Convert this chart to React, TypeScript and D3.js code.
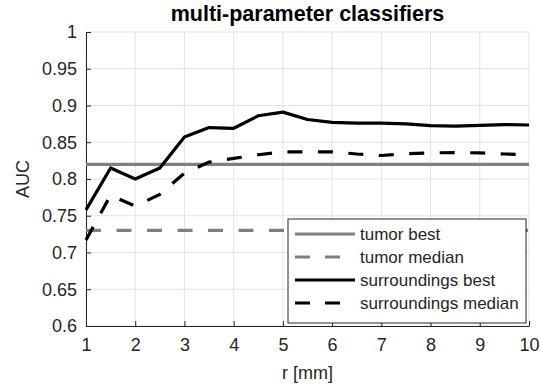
import React, { useEffect, useRef } from "react";
import * as d3 from "d3";

const radius = [1, 1.5, 2, 2.5, 3, 3.5, 4, 4.5, 5, 5.5, 6, 6.5, 7, 7.5, 8, 8.5, 9, 9.5, 10];
const surroundingsBest = [0.758, 0.815, 0.8, 0.815, 0.857, 0.87, 0.869, 0.886, 0.891, 0.881, 0.877, 0.876, 0.876, 0.875, 0.8725, 0.872, 0.873, 0.874, 0.8735];
const surroundingsMedian = [0.717, 0.778, 0.763, 0.779, 0.808, 0.823, 0.828, 0.833, 0.837, 0.837, 0.837, 0.834, 0.832, 0.8345, 0.8355, 0.836, 0.8355, 0.834, 0.833];
const tumorBest = 0.82;
const tumorMedian = 0.73;
const xTicks = [1, 2, 3, 4, 5, 6, 7, 8, 9, 10];
const yTicks = [0.6, 0.65, 0.7, 0.75, 0.8, 0.85, 0.9, 0.95, 1];

const legendItems = [
    { label: "tumor best", color: "#808080", dash: false },
    { label: "tumor median", color: "#808080", dash: true },
    { label: "surroundings best", color: "#000000", dash: false },
    { label: "surroundings median", color: "#000000", dash: true },
];

const App: React.FC = () => {
    const svgRef = useRef<SVGSVGElement | null>(null);

    useEffect(() => {
        document.body.style.margin = "0";
        if (!svgRef.current) return;
        const svgEl = d3.select(svgRef.current);
        svgEl.selectAll("*").remove();

        const width = 540;
        const height = 386;
        const margin = { top: 32, right: 11, bottom: 60, left: 86 };
        const innerWidth = width - margin.left - margin.right;
        const innerHeight = height - margin.top - margin.bottom;
        const font = "'Liberation Sans', Arial, Helvetica, sans-serif";
        const axisColor = "#262626";
        const dash = "15,15.5";

        const xScale = d3.scaleLinear().domain([1, 10]).range([0, innerWidth]);
        const yScale = d3.scaleLinear().domain([0.6, 1]).range([innerHeight, 0]);

        svgEl.attr("width", width).attr("height", height);
        svgEl.append("rect").attr("width", width).attr("height", height).attr("fill", "#fff");

        const svg = svgEl
            .append("g")
            .attr("transform", `translate(${margin.left},${margin.top})`);

        // grid
        svg.append("g")
            .selectAll("line")
            .data(xTicks)
            .enter()
            .append("line")
            .attr("x1", (d) => xScale(d))
            .attr("x2", (d) => xScale(d))
            .attr("y1", 0)
            .attr("y2", innerHeight)
            .attr("stroke", "#e3e3e3")
            .attr("stroke-width", 1);
        svg.append("g")
            .selectAll("line")
            .data(yTicks)
            .enter()
            .append("line")
            .attr("x1", 0)
            .attr("x2", innerWidth)
            .attr("y1", (d) => yScale(d))
            .attr("y2", (d) => yScale(d))
            .attr("stroke", "#e3e3e3")
            .attr("stroke-width", 1);

        // axes (ticks pointing inward, MATLAB style)
        const xAxis = svg
            .append("g")
            .attr("transform", `translate(0,${innerHeight})`)
            .call(d3.axisBottom(xScale).tickValues(xTicks).tickSize(-5).tickSizeOuter(0).tickPadding(12).tickFormat(d3.format("d")));
        const yAxis = svg
            .append("g")
            .call(d3.axisLeft(yScale).tickValues(yTicks).tickSize(-5).tickSizeOuter(0).tickPadding(9).tickFormat((d) => String(d)));

        [xAxis, yAxis].forEach((ax) => {
            ax.select(".domain").attr("stroke", axisColor).attr("stroke-width", 1);
            ax.selectAll(".tick line").attr("stroke", axisColor);
            ax.selectAll("text")
                .attr("fill", axisColor)
                .attr("font-family", font)
                .attr("font-size", 18);
        });
        xAxis.selectAll("text").attr("dy", "0.71em");

        // tumor reference lines
        svg.append("line")
            .attr("x1", xScale(1)).attr("x2", xScale(10))
            .attr("y1", yScale(tumorBest)).attr("y2", yScale(tumorBest))
            .attr("stroke", "#808080").attr("stroke-width", 3.2);
        svg.append("line")
            .attr("x1", xScale(1)).attr("x2", xScale(10))
            .attr("y1", yScale(tumorMedian)).attr("y2", yScale(tumorMedian))
            .attr("stroke", "#808080").attr("stroke-width", 3.2)
            .attr("stroke-dasharray", dash);

        // surroundings curves
        const lineGen = d3
            .line<number>()
            .x((_, i) => xScale(radius[i]))
            .y((d) => yScale(d));

        svg.append("path")
            .datum(surroundingsBest)
            .attr("fill", "none")
            .attr("stroke", "#000")
            .attr("stroke-width", 3.2)
            .attr("stroke-linejoin", "round")
            .attr("d", lineGen);
        svg.append("path")
            .datum(surroundingsMedian)
            .attr("fill", "none")
            .attr("stroke", "#000")
            .attr("stroke-width", 3.2)
            .attr("stroke-dasharray", dash)
            .attr("d", lineGen);

        // legend
        const lg = svgEl.append("g").attr("transform", "translate(288,219)");
        lg.append("rect")
            .attr("width", 238)
            .attr("height", 104)
            .attr("fill", "#fff")
            .attr("stroke", axisColor)
            .attr("stroke-width", 1);
        legendItems.forEach((item, i) => {
            const y = 15 + i * 23;
            lg.append("line")
                .attr("x1", 7).attr("x2", 67)
                .attr("y1", y).attr("y2", y)
                .attr("stroke", item.color)
                .attr("stroke-width", 3.2)
                .attr("stroke-dasharray", item.dash ? "15,15" : null);
            lg.append("text")
                .attr("x", 72)
                .attr("y", y)
                .attr("dy", "0.35em")
                .attr("font-family", font)
                .attr("font-size", 17)
                .attr("fill", axisColor)
                .text(item.label);
        });

        // title and axis labels
        svgEl.append("text")
            .attr("x", margin.left + innerWidth / 2)
            .attr("y", 21)
            .attr("text-anchor", "middle")
            .attr("font-family", font)
            .attr("font-size", 21.5)
            .attr("font-weight", "bold")
            .attr("fill", "#000")
            .text("multi-parameter classifiers");
        svgEl.append("text")
            .attr("x", margin.left + innerWidth / 2)
            .attr("y", 379)
            .attr("text-anchor", "middle")
            .attr("font-family", font)
            .attr("font-size", 18)
            .attr("fill", axisColor)
            .text("r [mm]");
        svgEl.append("text")
            .attr("transform", `translate(29,${margin.top + innerHeight / 2}) rotate(-90)`)
            .attr("text-anchor", "middle")
            .attr("font-family", font)
            .attr("font-size", 18)
            .attr("fill", axisColor)
            .text("AUC");
    }, []);

    return <svg ref={svgRef} />;
};

export default App;
